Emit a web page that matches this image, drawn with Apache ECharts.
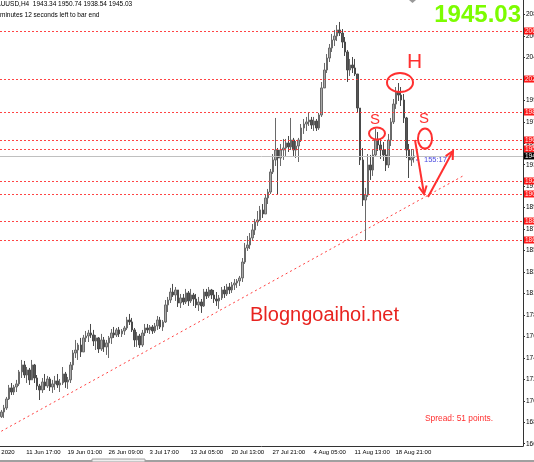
<!DOCTYPE html>
<html><head><meta charset="utf-8">
<script src="https://cdn.jsdelivr.net/npm/echarts@6/dist/echarts.min.js"></script>
<style>html,body{margin:0;padding:0;background:#fff;overflow:hidden}#c{width:534px;height:462px}</style>
</head><body><div id="c"></div>
<script>
// ---- data (XAUUSD, one candle per 8h) ----
const opens = [
1690.5,1695.1,1699.0,1707.8,1718.6,1714.6,1719.5,1722.5,1734.2,1741.0,
1731.2,1736.1,1726.4,1741.0,1728.3,1720.5,1716.6,1724.4,1720.5,1727.3,
1719.5,1722.5,1725.4,1721.5,1723.4,1732.2,1724.4,1726.4,1741.0,1752.7,
1755.6,1760.5,1753.7,1767.4,1769.3,1772.2,1770.3,1764.4,1767.4,1756.6,
1765.4,1758.6,1762.5,1767.4,1772.2,1770.3,1775.2,1771.3,1774.2,1777.1,
1784.9,1783.0,1775.2,1765.4,1769.3,1760.5,1772.2,1777.1,1775.2,1778.1,
1774.2,1779.1,1784.9,1778.1,1783.0,1799.6,1804.4,1812.2,1809.3,1814.2,
1801.5,1806.4,1802.5,1811.3,1803.5,1809.3,1805.4,1799.6,1802.5,1798.6,
1812.2,1808.3,1814.2,1809.3,1805.4,1803.5,1806.4,1814.2,1810.3,1817.1,
1814.2,1819.1,1821.0,1823.0,1825.9,1841.5,1855.2,1858.1,1865.0,1872.8,
1880.6,1882.5,1892.3,1888.4,1904.0,1909.8,1929.4,1941.1,1950.8,1943.0,
1950.8,1952.8,1957.7,1953.8,1960.6,1950.8,1954.7,1960.6,1972.3,1976.2,
1978.2,1980.1,1975.2,1979.1,1972.3,1985.0,2011.4,2028.9,2040.6,2050.4,
2058.2,2062.1,2068.0,2065.0,2056.2,2046.5,2028.9,2033.8,2030.9,2025.0,
1991.8,1941.1,1902.0,1906.9,1936.2,1931.3,1946.0,1960.6,1955.7,1950.8,
1946.0,1936.2,1960.6,1978.2,1995.7,2007.4,2004.5,1999.6,1982.1,1950.8,
1941.1,1943.34];
const highs = [
1697.1,1702.0,1709.8,1721.5,1723.4,1721.5,1726.4,1736.1,1745.9,1744.9,
1739.0,1738.1,1745.9,1742.0,1731.2,1722.5,1728.3,1732.2,1730.3,1729.3,
1726.4,1730.3,1732.2,1727.3,1739.0,1734.2,1729.3,1743.9,1755.6,1765.4,
1762.5,1767.4,1770.3,1774.2,1775.2,1781.0,1775.2,1770.3,1768.3,1771.3,
1768.3,1765.4,1769.3,1776.1,1778.1,1777.1,1778.1,1776.1,1779.1,1787.9,
1790.8,1786.9,1777.1,1773.2,1771.3,1775.2,1781.0,1781.0,1780.0,1780.0,
1782.0,1788.8,1787.9,1784.9,1804.4,1807.4,1816.2,1820.1,1817.1,1814.2,
1810.3,1810.3,1815.2,1813.2,1815.2,1811.3,1810.3,1807.4,1805.4,1815.2,
1815.2,1817.1,1815.2,1814.2,1812.2,1809.3,1817.1,1818.1,1820.1,1821.0,
1822.0,1824.9,1824.9,1827.9,1845.4,1860.1,1866.9,1869.8,1878.6,1883.5,
1891.3,1896.2,1898.1,1907.9,1912.8,1932.3,1946.9,1982.1,1952.8,1956.7,
1961.6,1961.6,1964.5,1982.1,1962.6,1959.6,1962.6,1976.2,1981.1,1983.1,
1987.9,1983.1,1983.1,1981.1,1987.0,2017.2,2035.8,2044.5,2054.3,2064.1,
2068.0,2072.8,2075.8,2068.9,2061.1,2048.4,2039.7,2041.6,2039.7,2025.0,
1991.8,1952.8,1913.8,1946.9,1946.0,1950.8,1971.3,1968.4,1961.6,1958.6,
1951.8,1966.5,1982.1,2000.6,2012.3,2016.2,2012.3,2005.5,1983.1,1956.7,
1951.8,1950.74];
const lows = [
1689.3,1689.3,1697.1,1706.8,1711.7,1711.7,1714.6,1720.5,1728.3,1728.3,
1723.4,1721.5,1726.4,1723.4,1716.6,1706.8,1713.7,1716.6,1718.6,1715.6,
1713.7,1716.6,1718.6,1714.6,1721.5,1718.6,1717.6,1723.4,1736.1,1747.8,
1745.9,1748.8,1753.7,1763.4,1763.4,1767.4,1759.5,1755.6,1752.7,1754.7,
1753.7,1750.8,1747.8,1761.5,1767.4,1768.3,1768.3,1768.3,1770.3,1775.2,
1780.0,1773.2,1758.6,1758.6,1757.6,1758.6,1769.3,1772.2,1771.3,1771.3,
1772.2,1775.2,1776.1,1774.2,1782.0,1792.7,1801.5,1807.4,1803.5,1797.6,
1796.6,1799.6,1800.5,1798.6,1801.5,1798.6,1796.6,1793.7,1791.8,1797.6,
1805.4,1806.4,1805.4,1801.5,1798.6,1795.7,1804.4,1806.4,1808.3,1810.3,
1811.3,1814.2,1816.2,1818.1,1822.0,1839.6,1852.3,1854.2,1862.0,1867.9,
1876.7,1881.5,1884.5,1888.4,1898.1,1907.9,1927.4,1935.2,1906.9,1935.2,
1941.1,1945.0,1948.9,1950.8,1945.0,1943.0,1939.1,1958.6,1966.5,1969.4,
1974.3,1971.3,1969.4,1969.4,1970.4,1983.1,2011.4,2026.0,2036.7,2046.5,
2052.3,2057.2,2062.1,2050.4,2042.6,2017.2,2023.1,2026.0,2023.1,1987.0,
1936.2,1896.2,1863.0,1905.0,1921.6,1925.5,1944.0,1949.9,1942.1,1940.1,
1930.3,1933.3,1954.7,1976.2,1990.9,1998.7,1993.8,1977.2,1943.0,1923.5,
1935.2,1938.54];
const closes = [
1695.1,1699.0,1707.8,1718.6,1714.6,1719.5,1722.5,1734.2,1741.0,1731.2,
1736.1,1726.4,1741.0,1728.3,1720.5,1716.6,1724.4,1720.5,1727.3,1719.5,
1722.5,1725.4,1721.5,1723.4,1732.2,1724.4,1726.4,1741.0,1752.7,1755.6,
1760.5,1753.7,1767.4,1769.3,1772.2,1770.3,1764.4,1767.4,1756.6,1765.4,
1758.6,1762.5,1767.4,1772.2,1770.3,1775.2,1771.3,1774.2,1777.1,1784.9,
1783.0,1775.2,1765.4,1769.3,1760.5,1772.2,1777.1,1775.2,1778.1,1774.2,
1779.1,1784.9,1778.1,1783.0,1799.6,1804.4,1812.2,1809.3,1814.2,1801.5,
1806.4,1802.5,1811.3,1803.5,1809.3,1805.4,1799.6,1802.5,1798.6,1812.2,
1808.3,1814.2,1809.3,1805.4,1803.5,1806.4,1814.2,1810.3,1817.1,1814.2,
1819.1,1821.0,1823.0,1825.9,1841.5,1855.2,1858.1,1865.0,1872.8,1880.6,
1882.5,1892.3,1888.4,1904.0,1909.8,1929.4,1941.1,1950.8,1943.0,1950.8,
1952.8,1957.7,1953.8,1960.6,1950.8,1954.7,1960.6,1972.3,1976.2,1978.2,
1980.1,1975.2,1979.1,1972.3,1985.0,2011.4,2028.9,2040.6,2050.4,2058.2,
2062.1,2068.0,2065.0,2056.2,2046.5,2028.9,2033.8,2030.9,2025.0,1991.8,
1941.1,1902.0,1906.9,1936.2,1931.3,1946.0,1960.6,1955.7,1950.8,1946.0,
1936.2,1960.6,1978.2,1995.7,2007.4,2004.5,1999.6,1982.1,1950.8,1941.1,
1943.3,1945.03];
const timeLabels = ['11 Jun 17:00','19 Jun 01:00','26 Jun 09:00','3 Jul 17:00','13 Jul 05:00',
  '20 Jul 13:00','27 Jul 21:00','4 Aug 05:00','11 Aug 13:00','18 Aug 21:00'];
const hiddenFirstLabel = '4 Jun 2020';
const priceTicks = [2083.10,2062.15,2041.20,2020.25,1999.30,1978.35,1957.40,1936.45,1915.50,1894.55,
  1873.60,1852.65,1831.70,1810.75,1789.80,1768.85,1747.90,1726.95,1706.00,1685.05,1664.10];
const levelLines = [2067.0, 2020.1, 1987.9, 1960.6, 1951.8, 1920.6, 1907.9, 1881.5, 1863.0];
const currentPrice = 1945.03;
const trendLine = [[0, 1676.3], [180, 1925.4]];
const headerText = 'XAUUSD,H4  1943.34 1950.74 1938.54 1945.03';
const timerText = 'minutes 12 seconds left to bar end';
const countdown = '155:17';
const spreadText = 'Spread: 51 points.';
const watermark = 'Blogngoaihoi.net';

// ---- layout settings ----
const slotCount = 204;          // candle slots incl. empty right shift
const firstLabelSlot = 9, labelEvery = 16;
const categories = Array.from({length: slotCount}, (_, i) => String(i));
const candleData = opens.map((o, i) => [o, closes[i], lows[i], highs[i]]);
const isLabelSlot = (i) => i >= firstLabelSlot && (i - firstLabelSlot) % labelEvery === 0 &&
  (i - firstLabelSlot) / labelEvery < timeLabels.length;

const RED = '#ff3030';
function arrow(x1, y1, x2, y2) {
  const dx = x2 - x1, dy = y2 - y1, L = Math.hypot(dx, dy), ux = dx / L, uy = dy / L;
  const hl = 8, hw = 4, bx = x2 - ux * hl, by = y2 - uy * hl;
  return [
    {type: 'line', shape: {x1, y1, x2, y2}, style: {stroke: RED, lineWidth: 2}, z: 100},
    {type: 'polyline', shape: {points: [[bx - uy * hw, by + ux * hw], [x2, y2], [bx + uy * hw, by - ux * hw]]},
      style: {stroke: RED, lineWidth: 2, fill: null}, z: 100}
  ];
}

const chart = echarts.init(document.getElementById('c'), null, {renderer: 'canvas'});
chart.setOption({
  animation: false,
  backgroundColor: '#ffffff',
  textStyle: {fontFamily: '"Liberation Sans", Arial, sans-serif'},
  grid: {left: 0, right: 11, top: 0, bottom: 16, containLabel: false, outerBoundsMode: 'none'},
  xAxis: {
    type: 'category', data: categories, boundaryGap: true,
    axisLine: {lineStyle: {color: '#333', width: 1}},
    axisTick: {interval: (i) => isLabelSlot(i), alignWithLabel: true, length: 3, lineStyle: {color: '#333'}},
    axisLabel: {
      interval: (i) => isLabelSlot(i), align: 'left', margin: 3, fontSize: 6, color: '#000',
      padding: [0, 0, 0, 2], hideOverlap: false,
      formatter: (v, i) => timeLabels[(Number(v) - firstLabelSlot) / labelEvery] || ''
    },
    splitLine: {show: false}
  },
  yAxis: {
    type: 'value', position: 'right', min: 1661.9, max: 2097.24, scale: true,
    axisLine: {show: true, lineStyle: {color: '#333', width: 1}},
    axisTick: {show: true, length: 2, customValues: priceTicks, lineStyle: {color: '#333'}},
    axisLabel: {customValues: priceTicks, margin: 3, fontSize: 6.5, color: '#000', hideOverlap: false,
      formatter: (v) => v.toFixed(2)},
    splitLine: {show: false}
  },
  series: [
    {
      type: 'candlestick', data: candleData, barWidth: 2,
      itemStyle: {color: '#a8a8a8', color0: '#555555', borderColor: '#6a6a6a', borderColor0: '#4a4a4a', borderWidth: 1},
      markLine: {
        silent: true, symbol: ['none', 'none'],
        lineStyle: {color: RED, type: [2, 2], width: 1, opacity: 0.9},
        label: {position: 'end', distance: 1, formatter: (p) => Number(p.value).toFixed(2),
          backgroundColor: '#ff0000', color: '#fff', fontSize: 6.5, padding: [1, 1, 0, 1], lineHeight: 6},
        data: levelLines.map(v => ({yAxis: v})).concat([{
          yAxis: currentPrice,
          lineStyle: {color: '#c0c0c0', type: 'solid', width: 1, opacity: 1},
          label: {backgroundColor: '#000', color: '#fff'}
        }])
      }
    },
    {
      type: 'line', data: trendLine, showSymbol: false, silent: true, z: 1,
      lineStyle: {color: '#ff4040', type: [2, 3], width: 1}
    }
  ],
  graphic: [
    {type: 'text', x: -8, y: 1, style: {text: headerText, font: '6.5px "Liberation Sans"', fill: '#000'}},
    {type: 'text', x: 0, y: 12, style: {text: timerText, font: '6.5px "Liberation Sans"', fill: '#000'}},
    {type: 'text', x: -15, y: 449, style: {text: hiddenFirstLabel, font: '6px "Liberation Sans"', fill: '#000'}},
    {type: 'text', x: 521, y: 3, style: {text: '1945.03', font: 'bold 24px "Liberation Sans"', fill: '#7cfc00', align: 'right'}},
    {type: 'text', x: 407, y: 52, style: {text: 'H', font: '21px "Liberation Sans"', fill: RED}},
    {type: 'text', x: 370, y: 112, style: {text: 'S', font: '15px "Liberation Sans"', fill: RED}},
    {type: 'text', x: 419, y: 111, style: {text: 'S', font: '15px "Liberation Sans"', fill: RED}},
    {type: 'ellipse', shape: {cx: 400, cy: 82.5, rx: 13, ry: 9.5}, style: {fill: null, stroke: RED, lineWidth: 2}, z: 100},
    {type: 'ellipse', shape: {cx: 377, cy: 133.5, rx: 8, ry: 6}, style: {fill: null, stroke: RED, lineWidth: 2}, z: 100},
    {type: 'ellipse', shape: {cx: 425, cy: 138.5, rx: 7, ry: 10}, style: {fill: null, stroke: RED, lineWidth: 2}, z: 100},
    ...arrow(415, 140, 424, 194),
    ...arrow(428, 197, 453, 151),
    {type: 'line', shape: {x1: 416, y1: 160, x2: 419, y2: 160}, style: {stroke: '#4848e0', lineWidth: 1}},
    {type: 'text', x: 424, y: 156, style: {text: countdown, font: '7.5px "Liberation Sans"', fill: '#4848e0'}},
    {type: 'text', x: 250, y: 305, style: {text: watermark, font: '20px "Liberation Sans"', fill: '#e8231f'}},
    {type: 'text', x: 425, y: 415, style: {text: spreadText, font: '8.4px "Liberation Sans"', fill: RED}},
    {type: 'polygon', shape: {points: [[409, 0], [416, 0], [412.5, 3]]}, style: {fill: '#999'}},
    {type: 'rect', shape: {x: 0, y: 460, width: 534, height: 2}, style: {fill: '#a0a0a0'}},
    {type: 'rect', shape: {x: 92, y: 459, width: 53, height: 3}, style: {fill: '#eeeeee', stroke: '#a0a0a0', lineWidth: 1}}
  ]
});
</script>
</body></html>
